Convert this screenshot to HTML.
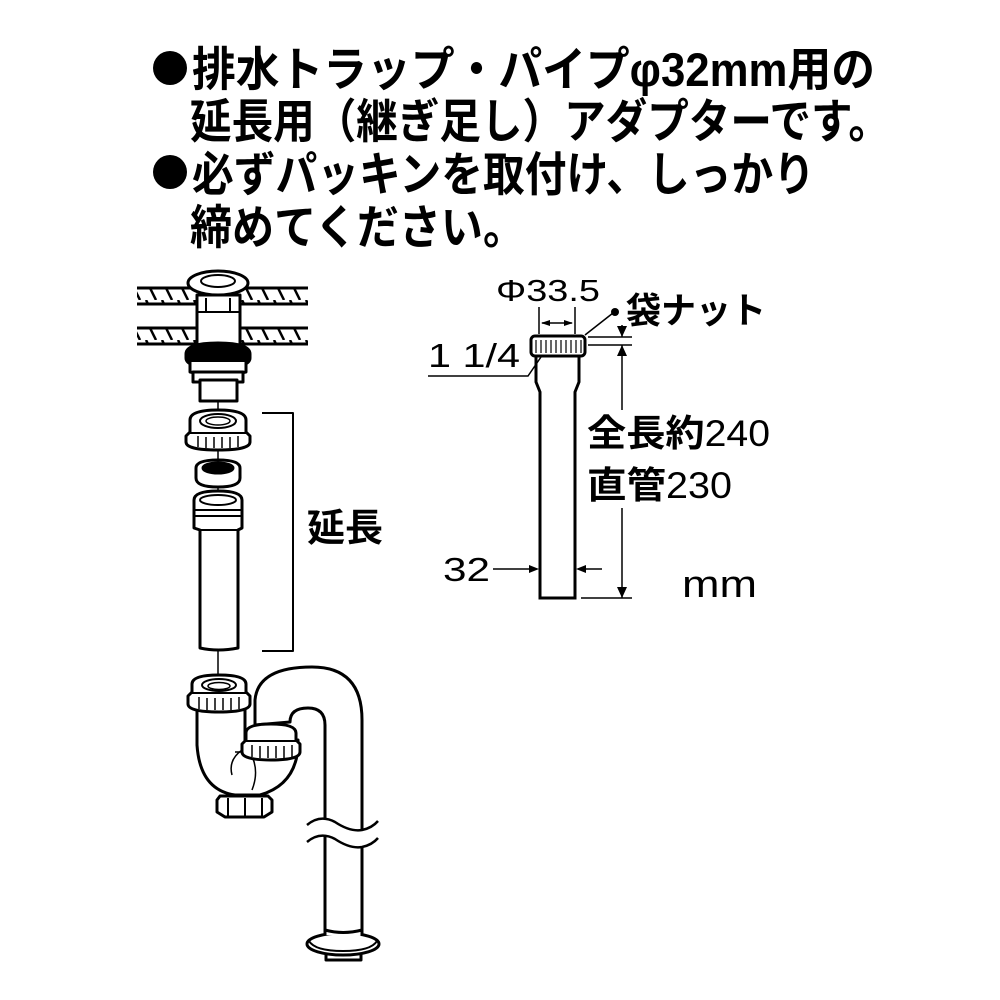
<!DOCTYPE html>
<html><head><meta charset="utf-8"><style>
html,body{margin:0;padding:0;background:#fff;}
svg{display:block;}
.t{font-family:"Liberation Sans","Noto Sans CJK JP",sans-serif;font-weight:bold;fill:#000;}
.n{font-family:"Liberation Sans","Noto Sans CJK JP",sans-serif;fill:#000;}
</style></head><body>
<svg width="1000" height="1000" viewBox="0 0 1000 1000" xmlns="http://www.w3.org/2000/svg">
<defs>
<pattern id="h" width="16" height="20" patternUnits="userSpaceOnUse">
<line x1="2" y1="0" x2="12" y2="20" stroke="#000" stroke-width="2.5"/>
</pattern>
</defs>
<!-- Top text -->
<circle cx="170" cy="68" r="17" fill="#000"/>
<circle cx="170" cy="172" r="17" fill="#000"/>
<text class="t" x="192" y="86" font-size="47" textLength="683" lengthAdjust="spacingAndGlyphs">排水トラップ・パイプφ32mm用の</text>
<text class="t" x="190" y="138" font-size="47" textLength="700" lengthAdjust="spacingAndGlyphs">延長用（継ぎ足し）アダプターです。</text>
<text class="t" x="192" y="191" font-size="47" textLength="623" lengthAdjust="spacingAndGlyphs">必ずパッキンを取付け、しっかり</text>
<text class="t" x="190" y="244" font-size="47" textLength="335" lengthAdjust="spacingAndGlyphs">締めてください。</text>

<g fill="#fff" stroke="#000" stroke-width="3" stroke-linejoin="round">
<!-- floors -->
<rect x="137" y="288" width="171" height="16" fill="url(#h)" stroke="none"/>
<rect x="137" y="328" width="171" height="16" fill="url(#h)" stroke="none"/>
<line x1="137" y1="288" x2="308" y2="288"/><line x1="137" y1="304" x2="308" y2="304"/>
<line x1="137" y1="328" x2="308" y2="328"/><line x1="137" y1="344" x2="308" y2="344"/>
<!-- drain body -->
<rect x="197" y="295" width="43" height="55"/>
<line x1="206" y1="298" x2="206" y2="312" stroke-width="2"/><line x1="230" y1="298" x2="230" y2="312" stroke-width="2"/>
<line x1="197" y1="312" x2="240" y2="312" stroke-width="2"/>
<ellipse cx="218" cy="283" rx="30" ry="12"/>
<ellipse cx="218" cy="281" rx="17" ry="6" stroke-width="2"/>
<path d="M186 354 Q186 343 218 343 Q250 343 250 354 L250 358 Q250 368 218 368 Q186 368 186 358 Z" fill="#000"/>
<path d="M190 362 L190 372 Q218 378 246 372 L246 362"/>
<rect x="193" y="372" width="50" height="10"/>
<rect x="200" y="380" width="37" height="21"/>
<!-- center line -->
<line x1="218" y1="400" x2="218" y2="690" stroke-width="1.5"/>
<!-- nut -->
<path d="M190 420 Q190 410 218 410 Q246 410 246 420 L246 432 L250 436 L250 442 Q250 450 218 450 Q186 450 186 442 L186 436 L190 432 Z"/>
<ellipse cx="218" cy="421" rx="18" ry="7" stroke-width="2"/>
<ellipse cx="218" cy="421" rx="12" ry="4" stroke-width="1.5"/>
<line x1="190" y1="433" x2="246" y2="433" stroke-width="2"/>
<g stroke-width="1.5"><line x1="198" y1="436" x2="198" y2="447"/><line x1="206" y1="437" x2="206" y2="448"/><line x1="214" y1="437" x2="214" y2="448"/><line x1="222" y1="437" x2="222" y2="448"/><line x1="230" y1="437" x2="230" y2="448"/><line x1="238" y1="436" x2="238" y2="447"/></g>
<!-- gasket -->
<path d="M196 468 Q196 460 218 460 Q240 460 240 468 L240 478 Q240 487 218 487 Q196 487 196 478 Z"/>
<ellipse cx="218" cy="468" rx="15" ry="5" fill="#000"/>
<!-- pipe -->
<path d="M194 500 Q194 491 218 491 Q242 491 242 500 L242 528 L238 530 L238 648 Q218 652 200 648 L200 530 L194 528 Z"/>
<ellipse cx="218" cy="500" rx="18" ry="5" stroke-width="2"/>
<line x1="195" y1="510" x2="241" y2="510" stroke-width="2"/><line x1="195" y1="516" x2="241" y2="516" stroke-width="2"/>
<line x1="200" y1="530" x2="238" y2="530" stroke-width="2"/>
<!-- bracket -->
<polyline points="262,413 293,413 293,651 262,651" fill="none" stroke-width="2"/>

<!-- J pipe -->
<path d="M255 725 L255 700 Q258 667 312 667 Q362 667 362 720 L362 945 L325 945 L325 725 Q325 708 308 708 Q290 708 290 722 Z"/>
<!-- trap U -->
<path d="M197 708 L197 745 Q200 790 235 795 L260 795 Q295 785 298 748 L298 740 L245 740 L245 708 Z"/>
<path d="M232 775 Q228 760 242 750 L245 748" fill="none" stroke-width="1.5"/>
<path d="M235 752 L250 752 Q260 770 252 790" fill="none" stroke-width="1.5"/>
<!-- left nut -->
<path d="M192 684 Q192 675 219 675 Q246 675 246 684 L246 692 L250 696 L250 704 Q250 712 219 712 Q188 712 188 704 L188 696 L192 692 Z"/>
<ellipse cx="219" cy="685" rx="17" ry="6" stroke-width="2"/>
<ellipse cx="219" cy="686" rx="11" ry="3.5" stroke-width="1.5"/>
<line x1="192" y1="693" x2="246" y2="693" stroke-width="2"/>
<g stroke-width="1.5"><line x1="199" y1="697" x2="199" y2="709"/><line x1="207" y1="698" x2="207" y2="710"/><line x1="215" y1="698" x2="215" y2="710"/><line x1="223" y1="698" x2="223" y2="710"/><line x1="231" y1="698" x2="231" y2="710"/><line x1="239" y1="697" x2="239" y2="709"/></g>
<!-- right nut -->
<path d="M246 733 Q246 724 271 724 Q296 724 296 733 L296 740 L300 744 L300 752 Q300 760 271 760 Q242 760 242 752 L242 744 L246 740 Z"/>
<line x1="246" y1="741" x2="296" y2="741" stroke-width="2"/>
<g stroke-width="1.5"><line x1="252" y1="745" x2="252" y2="757"/><line x1="260" y1="746" x2="260" y2="758"/><line x1="268" y1="746" x2="268" y2="758"/><line x1="276" y1="746" x2="276" y2="758"/><line x1="284" y1="746" x2="284" y2="758"/><line x1="292" y1="745" x2="292" y2="757"/></g>
<!-- bottom nut -->
<path d="M220 796 L268 796 L272 800 L272 812 L264 817 L225 817 L217 812 L217 800 Z"/>
<line x1="228" y1="798" x2="228" y2="816" stroke-width="2"/><line x1="245" y1="798" x2="245" y2="817" stroke-width="2"/><line x1="262" y1="798" x2="262" y2="816" stroke-width="2"/>
<!-- break -->
<path d="M305 822 Q318 814 330 820 Q345 830 360 830 Q372 828 378 822 L378 840 Q372 846 360 847 Q345 847 330 838 Q318 832 305 840 Z" stroke="none"/>
<path d="M307 825 Q320 814 335 822 Q350 832 362 830 Q372 828 378 821" fill="none" stroke-width="2.5"/>
<path d="M307 842 Q320 831 335 839 Q350 849 362 847 Q372 845 378 838" fill="none" stroke-width="2.5"/>
<!-- foot -->
<rect x="326" y="948" width="35" height="12"/>
<ellipse cx="343" cy="944" rx="36" ry="11"/>
<path d="M309 941 Q315 951 343 951 Q371 951 377 941" fill="none" stroke-width="2"/>
<path d="M325 935 L325 930 Q343 935 362 930 L362 936" fill="#fff"/>
</g>
<text class="t" x="307" y="541" font-size="38">延長</text>

<!-- Right drawing -->
<g fill="#fff" stroke="#000" stroke-width="3">
<path d="M536 355 L536 382 L540 392 L540 598 L575 598 L575 392 L579 382 L579 355"/>
<rect x="531" y="336" width="54" height="20" rx="4"/>
</g>
<g stroke="#000" stroke-width="1.2">
<line x1="536" y1="340" x2="536" y2="353"/><line x1="541" y1="340" x2="541" y2="353"/><line x1="546" y1="340" x2="546" y2="353"/><line x1="551" y1="340" x2="551" y2="353"/><line x1="556" y1="340" x2="556" y2="353"/><line x1="561" y1="340" x2="561" y2="353"/><line x1="566" y1="340" x2="566" y2="353"/><line x1="571" y1="340" x2="571" y2="353"/><line x1="576" y1="340" x2="576" y2="353"/><line x1="581" y1="340" x2="581" y2="353"/>
</g>
<g stroke="#000" stroke-width="1.5" fill="none">
<line x1="539" y1="307" x2="539" y2="334"/><line x1="575" y1="307" x2="575" y2="334"/>
<line x1="542" y1="323" x2="572" y2="323"/>
<line x1="585" y1="335" x2="613" y2="313"/>
<line x1="588" y1="337" x2="632" y2="337"/><line x1="588" y1="345" x2="632" y2="345"/>
<line x1="622" y1="325" x2="622" y2="337"/>
<line x1="622" y1="345" x2="622" y2="410"/>
<line x1="622" y1="508" x2="622" y2="598"/>
<line x1="581" y1="598" x2="632" y2="598"/>
<polyline points="428,376 528,376 541,357"/>
<line x1="493" y1="569" x2="534" y2="569"/><line x1="582" y1="569" x2="602" y2="569"/>
</g>
<g fill="#000">
<polygon points="541,323 550,320 550,326"/><polygon points="573,323 564,320 564,326"/>
<circle cx="615" cy="312" r="4"/>
<polygon points="622,337 617,326 627,326"/><polygon points="622,345 617,356 627,356"/>
<polygon points="622,598 617,587 627,587"/>
<polygon points="539,569 529,565 529,573"/><polygon points="576,569 586,565 586,573"/>
</g>
<text class="n" x="496" y="301" font-size="31" textLength="104" lengthAdjust="spacingAndGlyphs">Φ33.5</text>
<text class="t" x="626" y="323" font-size="36" textLength="140" lengthAdjust="spacingAndGlyphs">袋ナット</text>
<text class="n" x="428" y="367" font-size="33" textLength="92" lengthAdjust="spacingAndGlyphs">1 1/4</text>
<text class="t" x="587" y="446" font-size="37" textLength="183" lengthAdjust="spacingAndGlyphs">全長約<tspan font-weight="normal">240</tspan></text>
<text class="t" x="587" y="498" font-size="37" textLength="145" lengthAdjust="spacingAndGlyphs">直管<tspan font-weight="normal">230</tspan></text>
<text class="n" x="443" y="581" font-size="33" textLength="47" lengthAdjust="spacingAndGlyphs">32</text>
<text class="n" x="682" y="597" font-size="38" textLength="75" lengthAdjust="spacingAndGlyphs">mm</text>
</svg>
</body></html>
